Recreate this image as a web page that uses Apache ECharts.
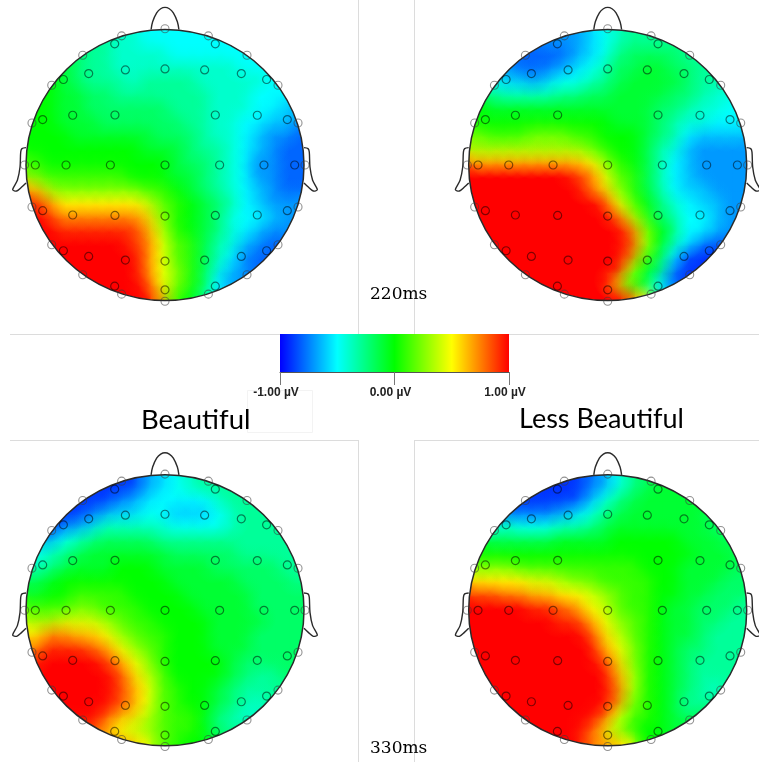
<!DOCTYPE html>
<html>
<head>
<meta charset="utf-8">
<style>html,body{margin:0;padding:0;background:#fff}#c{width:759px;height:762px}</style>
<script src="https://cdn.jsdelivr.net/npm/echarts@6/dist/echarts.min.js"></script>
</head>
<body>
<div id="c"></div>
<script>
// Scalp voltage on a 20 x 20 raster, in tenths of a microvolt, top row first.
const beautiful220 = [
[-3,-3,-3,-3,-3,-3,-4,-4,-5,-5,-5,-5,-5,-5,-5,-5,-5,-5,-5,-5],
[-2,-2,-2,-2,-3,-3,-4,-4,-4,-4,-5,-5,-5,-5,-5,-5,-5,-5,-5,-5],
[-1,-1,-1,-2,-3,-3,-4,-4,-4,-4,-4,-4,-4,-4,-4,-5,-5,-5,-5,-5],
[0,0,-1,-2,-3,-3,-3,-4,-3,-3,-3,-3,-4,-4,-4,-4,-4,-5,-5,-5],
[0,0,-1,-1,-2,-2,-3,-3,-3,-3,-3,-3,-3,-4,-4,-4,-5,-5,-5,-6],
[0,0,-1,-1,-2,-2,-2,-2,-2,-2,-3,-3,-3,-4,-4,-4,-5,-5,-6,-6],
[0,0,-1,-1,-1,-2,-2,-2,-2,-2,-2,-3,-3,-4,-4,-5,-5,-6,-6,-7],
[0,0,0,-1,-1,-1,-1,-1,-1,-2,-2,-2,-3,-4,-4,-5,-6,-7,-7,-8],
[0,0,0,0,0,0,0,0,-1,-1,-1,-2,-3,-3,-4,-5,-6,-7,-8,-8],
[1,0,0,0,0,0,0,0,0,0,-1,-2,-2,-3,-4,-5,-7,-7,-8,-8],
[2,1,1,1,1,1,1,0,0,0,-1,-1,-2,-3,-4,-5,-7,-7,-8,-8],
[6,3,2,2,2,2,2,2,1,1,0,-1,-2,-3,-4,-5,-6,-7,-8,-8],
[9,7,5,5,5,5,5,5,4,2,1,0,-1,-2,-3,-5,-6,-7,-7,-7],
[10,9,7,7,7,7,7,7,6,3,1,0,-1,-2,-4,-5,-5,-6,-7,-7],
[10,10,9,9,9,9,9,9,7,4,1,0,-1,-2,-4,-5,-6,-7,-7,-7],
[10,10,10,10,10,10,10,9,8,5,2,1,-1,-3,-4,-6,-7,-8,-8,-8],
[10,10,10,10,10,10,10,10,8,5,2,1,-1,-3,-5,-7,-8,-8,-8,-8],
[10,10,10,10,10,10,10,10,8,5,3,1,-1,-4,-6,-7,-8,-8,-8,-8],
[10,10,10,10,10,10,10,10,9,5,3,1,-1,-5,-7,-7,-8,-8,-8,-8],
[10,10,10,10,10,10,10,10,10,7,2,0,-2,-5,-5,-5,-5,-5,-5,-5]
];
const lessBeautiful220 = [
[-7,-7,-7,-7,-7,-7,-7,-7,-6,-5,-4,-3,-3,-3,-3,-3,-3,-3,-3,-3],
[-6,-6,-7,-8,-8,-8,-8,-7,-6,-5,-3,-2,-2,-2,-2,-3,-3,-3,-3,-3],
[-5,-6,-7,-8,-8,-8,-7,-6,-5,-4,-2,-2,-1,-1,-2,-2,-3,-3,-3,-3],
[-3,-5,-6,-6,-7,-6,-5,-5,-4,-3,-2,-1,-1,-1,-1,-2,-3,-3,-4,-4],
[-1,-3,-4,-4,-4,-4,-3,-3,-2,-2,-1,-1,-1,-1,-2,-2,-3,-4,-4,-5],
[0,-1,-1,-1,-1,-1,-1,-1,-1,-1,-1,-1,-1,-2,-2,-3,-4,-4,-5,-5],
[0,0,0,0,0,0,0,0,0,0,-1,-1,-1,-2,-3,-4,-4,-5,-5,-5],
[2,1,1,1,2,2,2,1,1,0,0,0,-1,-2,-3,-5,-6,-6,-6,-6],
[3,3,3,3,3,3,3,3,2,1,0,0,-1,-3,-4,-6,-7,-7,-7,-7],
[6,6,6,6,6,6,6,6,5,3,1,0,-1,-3,-5,-6,-7,-7,-7,-7],
[10,10,10,10,10,10,10,9,8,5,2,1,-1,-3,-5,-6,-7,-7,-7,-7],
[10,10,10,10,10,10,10,10,8,6,3,1,-1,-3,-5,-6,-6,-7,-7,-7],
[10,10,10,10,10,10,10,10,10,9,5,2,0,-2,-4,-5,-6,-6,-7,-7],
[10,10,10,10,10,10,10,10,10,10,8,4,1,-2,-3,-5,-5,-6,-7,-7],
[10,10,10,10,10,10,10,10,10,10,10,8,3,0,-2,-5,-5,-6,-7,-7],
[10,10,10,10,10,10,10,10,10,10,10,9,4,0,-3,-5,-7,-8,-8,-8],
[10,10,10,10,10,10,10,10,10,10,10,8,2,-1,-5,-8,-9,-9,-9,-9],
[10,10,10,10,10,10,10,10,10,10,10,4,0,-2,-7,-9,-9,-9,-9,-9],
[10,10,10,10,10,10,10,10,10,10,6,1,-1,-5,-8,-9,-9,-9,-9,-9],
[10,10,10,10,10,10,10,10,10,10,10,8,5,-3,-5,-5,-5,-5,-5,-5]
];
const beautiful330 = [
[-9,-9,-9,-9,-9,-9,-9,-9,-7,-6,-5,-4,-3,-3,-3,-3,-3,-3,-3,-3],
[-9,-9,-9,-9,-9,-9,-8,-7,-6,-5,-5,-5,-5,-4,-3,-3,-3,-3,-3,-3],
[-9,-9,-9,-9,-8,-7,-6,-6,-5,-5,-6,-6,-6,-5,-4,-3,-3,-3,-3,-3],
[-9,-9,-8,-7,-6,-4,-4,-4,-4,-4,-5,-5,-5,-5,-4,-3,-3,-3,-3,-3],
[-7,-7,-5,-4,-3,-2,-2,-2,-2,-3,-3,-3,-3,-3,-3,-3,-3,-3,-3,-3],
[-5,-4,-3,-2,-1,-1,-1,-1,-1,-1,-2,-2,-2,-2,-2,-3,-3,-3,-3,-3],
[-4,-3,-2,-1,-1,-1,0,0,0,-1,-1,-1,-1,-2,-2,-2,-2,-2,-3,-3],
[-2,-1,0,0,0,0,0,0,0,0,-1,-1,-1,-1,-1,-2,-2,-2,-2,-3],
[-1,0,0,1,1,1,1,0,0,0,0,-1,-1,-1,-1,-1,-2,-2,-2,-2],
[1,1,1,2,2,1,1,1,0,0,0,0,-1,-1,-1,-1,-2,-2,-2,-2],
[3,3,4,4,4,3,2,1,1,0,0,0,0,-1,-1,-1,-1,-2,-2,-2],
[5,7,7,6,6,5,3,2,1,1,0,0,0,-1,-1,-1,-2,-2,-2,-2],
[7,9,9,9,8,7,5,3,2,1,0,0,0,-1,-1,-1,-2,-2,-2,-2],
[9,10,10,10,10,9,7,5,3,1,0,0,0,0,-1,-2,-2,-2,-2,-2],
[10,10,10,10,10,10,9,6,4,2,0,0,0,0,-1,-2,-3,-3,-2,-2],
[10,10,10,10,10,10,9,7,5,2,1,0,0,-1,-2,-3,-3,-3,-3,-3],
[10,10,10,10,10,10,9,7,5,2,1,0,0,-1,-2,-3,-4,-3,-3,-3],
[10,10,10,10,10,9,7,6,4,2,1,1,0,-2,-3,-4,-4,-3,-3,-3],
[10,10,9,9,9,7,5,4,3,2,1,1,0,-2,-3,-3,-3,-3,-3,-3],
[7,7,7,7,7,7,7,6,5,2,1,0,0,-1,-2,-2,-2,-2,-2,-2]
];
const lessBeautiful330 = [
[-9,-9,-9,-9,-9,-9,-9,-9,-8,-7,-5,-3,-2,-1,-1,-1,-1,-1,-1,-1],
[-9,-9,-9,-9,-9,-9,-9,-9,-7,-5,-3,-2,-1,-1,-1,-1,-1,-1,-1,-1],
[-8,-8,-8,-8,-8,-8,-7,-6,-5,-3,-2,-1,-1,-1,-1,-1,-1,-2,-2,-2],
[-5,-5,-4,-5,-5,-5,-4,-4,-3,-2,-1,-1,-1,-1,-1,-1,-1,-2,-2,-2],
[-2,-2,-2,-2,-2,-2,-1,-1,-1,-1,0,0,0,0,0,-1,-1,-1,-2,-2],
[0,0,0,0,0,0,0,0,0,0,0,0,0,0,0,0,-1,-1,-1,-2],
[2,2,2,1,1,1,1,1,1,1,1,1,0,0,0,-1,-1,-1,-1,-2],
[5,5,5,5,4,4,3,2,2,1,1,1,1,0,0,-1,-1,-1,-2,-2],
[8,8,7,7,6,6,5,5,4,3,2,1,1,0,0,-1,-1,-2,-2,-2],
[10,10,10,10,9,9,8,7,5,4,2,1,1,0,-1,-1,-2,-2,-2,-3],
[10,10,10,10,10,10,9,9,7,5,3,2,1,0,-1,-1,-2,-2,-3,-3],
[10,10,10,10,10,10,10,10,9,6,4,2,1,0,-1,-1,-2,-3,-3,-3],
[10,10,10,10,10,10,10,10,10,7,5,3,1,0,-1,-2,-2,-3,-3,-3],
[10,10,10,10,10,10,10,10,10,9,6,3,1,0,-1,-2,-3,-3,-3,-3],
[10,10,10,10,10,10,10,10,10,10,7,4,1,0,-1,-2,-3,-3,-3,-3],
[10,10,10,10,10,10,10,10,10,10,8,4,1,0,-1,-2,-3,-4,-3,-3],
[10,10,10,10,10,10,10,10,10,10,8,3,1,0,-1,-3,-3,-3,-3,-3],
[10,10,10,10,10,10,10,10,10,9,5,2,1,0,-1,-2,-2,-2,-2,-2],
[10,10,10,10,10,10,10,10,9,6,3,1,0,0,-1,-1,-1,-1,-1,-1],
[10,10,10,10,10,10,10,10,8,7,6,5,0,0,-1,-1,-1,-1,-1,-1]
];
const outerElectrodes = [[0,1.005],[-.312,.953],[.312,.953],[-.592,.81],[.59,.81],[-.815,.589],[.813,.589],[-.957,.31],[.957,.31],[-1.01,0],[1.007,0],[-.957,-.31],[.957,-.31],[-.815,-.589],[.813,-.589],[-.592,-.81],[.59,-.81],[-.312,-.953],[.312,-.953],[0,-1.005]];
const innerElectrodes = [[-.362,.894],[.362,.894],[-.549,.675],[-.285,.702],[0,.709],[.285,.702],[.549,.675],[-.731,.631],[.731,.631],[-.664,.367],[-.36,.369],[.362,.369],[.664,.367],[-.88,.335],[.88,.335],[-.933,0],[-.712,0],[-.393,0],[0,0],[.393,0],[.712,0],[.933,0],[-.88,-.337],[.88,-.337],[-.664,-.369],[-.36,-.372],[0,-.377],[.362,-.372],[.664,-.369],[-.731,-.633],[.731,-.633],[-.549,-.675],[-.285,-.702],[0,-.709],[.285,-.702],[.549,-.675],[-.362,-.894],[.362,-.894],[0,-.921]];
const noseOutline = [[-.1,1],[-.089,1.057],[-.06,1.123],[-.031,1.153],[0,1.163],[.031,1.153],[.06,1.123],[.089,1.057],[.1,1]];
const earOutline = [[-1,.128],[-1.029,.121],[-1.038,.096],[-1.043,-.015],[-1.062,-.113],[-1.096,-.182],[-1.067,-.192],[-1.031,-.163],[-1,-.133]];
const scaleColors = ['#0000ff','#0080ff','#00ffff','#00ff80','#00ff00','#80ff00','#ffff00','#ff8000','#ff0000'];
const scaleRange = [-1, 1];
const scaleTicks = [-1, 0, 1];
const headMaps = [beautiful220, lessBeautiful220, beautiful330, lessBeautiful330];
const headCentres = [[165,165],[607.7,165],[165,610.3],[607.7,610.3]];
const headRadii = [139,135.5];
const axisReach = 1.05;

const chart = echarts.init(document.getElementById('c'), null, {renderer:'canvas'});
const grids=[], xAxes=[], yAxes=[], series=[], mapped=[];

function cellsOf(rows){
  const out=[];
  rows.forEach((r,j)=>r.forEach((v,i)=>{
    const x=-1+(i+.5)*.1, y=1-(j+.5)*.1;
    if(Math.hypot(x,y)<1.08) out.push([x,y,v/10]);
  }));
  return out;
}
function renderCell(p,api){
  const c=api.coord([api.value(0),api.value(1)]), s=api.size([.1,.1]);
  return {type:'rect',shape:{x:c[0]-s[0]/2-.5,y:c[1]-s[1]/2-.5,width:s[0]+1,height:s[1]+1},style:{fill:api.visual('color')}};
}
function renderBlob(p,api){
  const c=api.coord([api.value(0),api.value(1)]), s=api.size([.1,.1]), col=api.visual('color');
  return {type:'circle',shape:{cx:c[0],cy:c[1],r:s[0]*1.5},style:{fill:new echarts.graphic.RadialGradient(.5,.5,.5,[
    {offset:0,color:echarts.color.modifyAlpha(col,.7)},
    {offset:.5,color:echarts.color.modifyAlpha(col,.32)},
    {offset:1,color:echarts.color.modifyAlpha(col,0)}])}};
}
function renderMask(p,api){
  const c=api.coord([0,0]), s=api.size([1,1]);
  return {type:'ellipse',shape:{cx:c[0],cy:c[1],rx:s[0]+16,ry:s[1]+16},style:{fill:'none',stroke:'#fff',lineWidth:32}};
}
function renderRim(p,api){
  const c=api.coord([0,0]), s=api.size([1,1]);
  return {type:'ellipse',shape:{cx:c[0],cy:c[1],rx:s[0],ry:s[1]},style:{fill:'none',stroke:'#2a2a2a',lineWidth:1.5}};
}
function outlineRenderer(points){
  return (p,api)=>({type:'polyline',shape:{points:points.map(q=>api.coord(q)),smooth:.3},style:{fill:'none',stroke:'#2a2a2a',lineWidth:1.4}});
}
function renderScale(p,api){
  const a=api.coord([scaleRange[0],1]), b=api.coord([scaleRange[1],0]);
  const stops=scaleColors.map((color,i)=>({offset:i/(scaleColors.length-1),color}));
  return {type:'rect',shape:{x:a[0],y:a[1],width:b[0]-a[0],height:b[1]-a[1]},style:{fill:new echarts.graphic.LinearGradient(0,0,1,0,stops)}};
}
headMaps.forEach((rows,h)=>{
  const [cx,cy]=headCentres[h], w=headRadii[0]*axisReach, t=headRadii[1]*axisReach;
  grids.push({left:cx-w,top:cy-t,width:w*2,height:t*2,show:false});
  xAxes.push({gridIndex:h,type:'value',min:-axisReach,max:axisReach,show:false});
  yAxes.push({gridIndex:h,type:'value',min:-axisReach,max:axisReach,show:false});
  const base={xAxisIndex:h,yAxisIndex:h,silent:true,animation:false};
  const data=cellsOf(rows);
  mapped.push(series.length);
  series.push({...base,name:'cells'+h,type:'custom',z:2,clip:false,renderItem:renderCell,data,encode:{x:0,y:1},progressive:0});
  mapped.push(series.length);
  series.push({...base,name:'blend'+h,type:'custom',z:3,clip:false,renderItem:renderBlob,data,encode:{x:0,y:1},progressive:0});
  mapped.push(series.length);
  series.push({...base,name:'blendBack'+h,type:'custom',z:3,clip:false,renderItem:renderBlob,data:data.slice().reverse(),encode:{x:0,y:1},progressive:0});
  series.push({...base,type:'custom',z:4,clip:false,renderItem:renderMask,data:[[0,0]],encode:{x:0,y:1}});
  series.push({...base,type:'custom',z:5,clip:false,renderItem:renderRim,data:[[0,0]],encode:{x:0,y:1}});
  [noseOutline,earOutline,earOutline.map(q=>[-q[0],q[1]])].forEach(d=>{
    series.push({...base,type:'custom',z:5,clip:false,renderItem:outlineRenderer(d),data:[[0,0]],encode:{x:0,y:1}});
  });
  series.push({...base,type:'scatter',z:6,clip:false,symbol:'circle',symbolSize:8,data:outerElectrodes,
    itemStyle:{color:'rgba(0,0,0,0)',borderColor:'rgba(60,60,60,.7)',borderWidth:1.1}});
  series.push({...base,type:'scatter',z:6,clip:false,symbol:'circle',symbolSize:8,data:innerElectrodes,
    itemStyle:{color:'rgba(0,0,0,0)',borderColor:'rgba(0,0,0,.62)',borderWidth:1.2}});
});
grids.push({left:280,top:334,width:229,height:38,show:false});
xAxes.push({gridIndex:4,type:'value',min:scaleRange[0],max:scaleRange[1],interval:1,position:'bottom',
  axisLine:{show:true,onZero:false,lineStyle:{color:'#555',width:1}},
  axisTick:{show:true,length:13,lineStyle:{color:'#777',width:1}},
  splitLine:{show:false},
  axisLabel:{show:true,margin:15,padding:[0,8,0,0],color:'#222',fontFamily:'Liberation Sans',fontWeight:'bold',fontSize:12,hideOverlap:false,
    showMinLabel:true,showMaxLabel:true,customValues:scaleTicks,formatter:v=>v.toFixed(2)+' µV'}});
yAxes.push({gridIndex:4,type:'value',min:0,max:1,show:false});
series.push({type:'custom',xAxisIndex:4,yAxisIndex:4,z:1,silent:true,animation:false,renderItem:renderScale,data:[[0,0]],encode:{x:0,y:1}});

const rule='#dcdcdc';
const hline=(x1,x2,y)=>({type:'line',shape:{x1,y1:y+.5,x2,y2:y+.5},style:{stroke:rule,lineWidth:1},z:0,silent:true});
const vline=(x,y1,y2)=>({type:'line',shape:{x1:x+.5,y1,x2:x+.5,y2},style:{stroke:rule,lineWidth:1},z:0,silent:true});
const titleAt=(text,left,top,fontFamily,fontSize)=>({text,left,top,padding:0,textStyle:{fontFamily,fontSize,fontWeight:'normal',color:'#000'}});

chart.setOption({
  animation:false,
  backgroundColor:'#fff',
  title:[
    titleAt('220ms',370,286,'DejaVu Serif',17),
    titleAt('330ms',370,740,'DejaVu Serif',17),
    titleAt('Beautiful',141,406,'Lato',27.5),
    titleAt('Less Beautiful',519,406,'Lato',27)
  ],
  graphic:[vline(358,0,334),vline(414,0,334),hline(10,759,334),vline(358,440,762),vline(414,440,762),hline(10,358,440),hline(414,759,440),
    {type:'rect',shape:{x:247.5,y:390.5,width:65,height:42},style:{fill:'none',stroke:'#f3f3f3',lineWidth:1},z:0,silent:true}],
  grid:grids,xAxis:xAxes,yAxis:yAxes,series,
  visualMap:[{type:'continuous',show:false,min:scaleRange[0],max:scaleRange[1],dimension:2,seriesIndex:mapped,inRange:{color:scaleColors}}]
});
</script>
</body>
</html>
